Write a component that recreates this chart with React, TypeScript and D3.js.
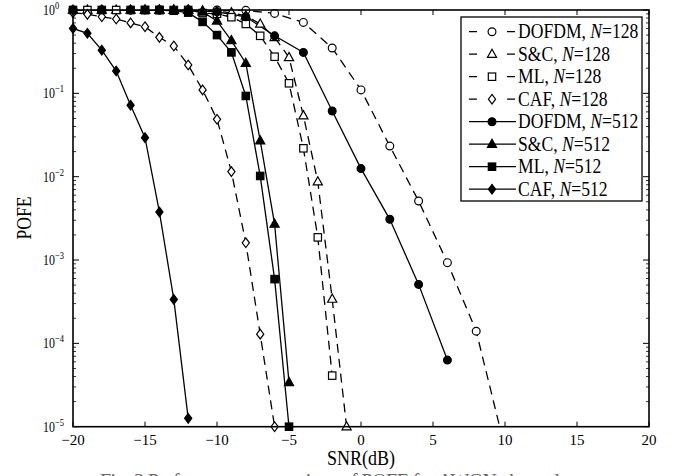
import React from "react";
import * as d3 from "d3";

// SNR (dB) grid and POFE values
const snrDofdm128 = [-20, -18, -16, -14, -12, -10, -8, -6, -4, -2, 0, 2, 4, 6, 8, 10];
const pofeDofdm128 = [1, 1, 1, 1, 1, 1, 0.99, 0.91, 0.71, 0.35, 0.11, 0.0233, 0.0051, 9.3e-4, 1.4e-4, 5.5e-6];

const snrSc128 = [-20, -19, -18, -17, -16, -15, -14, -13, -12, -11, -10, -9, -8, -7, -6, -5, -4, -3, -2, -1];
const pofeSc128 = [1, 1, 1, 1, 1, 1, 1, 1, 1, 0.98, 0.96, 0.93, 0.85, 0.68, 0.47, 0.27, 0.054, 0.0087, 3.4e-4, 1e-5];

const snrMl128 = [-20, -19, -18, -17, -16, -15, -14, -13, -12, -11, -10, -9, -8, -7, -6, -5, -4, -3, -2];
const pofeMl128 = [1, 1, 1, 1, 1, 1, 1, 1, 1, 0.92, 0.9, 0.82, 0.68, 0.49, 0.275, 0.132, 0.0219, 0.00187, 4.1e-5];

const snrCaf128 = [-20, -19, -18, -17, -16, -15, -14, -13, -12, -11, -10, -9, -8, -7, -6];
const pofeCaf128 = [0.93, 0.887, 0.83, 0.78, 0.7, 0.63, 0.47, 0.37, 0.219, 0.11, 0.0488, 0.0115, 0.00161, 1.29e-4, 1e-5];

const snrDofdm512 = [-20, -18, -16, -14, -12, -10, -8, -6, -4, -2, 0, 2, 4, 6];
const pofeDofdm512 = [1, 1, 1, 1, 1, 0.95, 0.83, 0.49, 0.31, 0.0614, 0.0125, 0.00308, 5.1e-4, 6.3e-5];

const snrSc512 = [-15, -14, -13, -12, -11, -10, -9, -8, -7, -6, -5];
const pofeSc512 = [1, 1, 1, 1, 0.95, 0.74, 0.43, 0.23, 0.027, 0.0027, 3.4e-5];

const snrMl512 = [-15, -14, -13, -12, -11, -10, -9, -8, -7, -6, -5];
const pofeMl512 = [1, 1, 0.98, 0.93, 0.72, 0.5, 0.31, 0.093, 0.0102, 5.9e-4, 1e-5];

const snrCaf512 = [-20, -19, -18, -17, -16, -15, -14, -13, -12];
const pofeCaf512 = [0.6, 0.525, 0.33, 0.185, 0.072, 0.0294, 0.00377, 3.37e-4, 1.26e-5];

const seriesNames = ["DOFDM", "S&C", "ML", "CAF", "DOFDM", "S&C", "ML", "CAF"];
const seriesN = ["128", "128", "128", "128", "512", "512", "512", "512"];
const markerKinds = ["circle", "triangle", "square", "diamond", "circle", "triangle", "square", "diamond"];

const xTicks = [-20, -15, -10, -5, 0, 5, 10, 15, 20];
const yExps = [0, -1, -2, -3, -4, -5];

const W = 677;
const H = 476;
const left = 73, right = 649, top = 10, bottom = 426.7;
const serif = "'Liberation Serif', 'DejaVu Serif', serif";

function Marker({ kind, x, y, filled }: { kind: string; x: number; y: number; filled: boolean }) {
  const fill = filled ? "#000" : "#fff";
  const sw = 1.2;
  if (kind === "circle") return <circle cx={x} cy={y} r={3.9} fill={fill} stroke="#000" strokeWidth={sw} />;
  if (kind === "square") return <rect x={x - 3.7} y={y - 3.7} width={7.4} height={7.4} fill={fill} stroke="#000" strokeWidth={sw} />;
  if (kind === "triangle")
    return <path d={`M${x},${y - 5}L${x + 4.6},${y + 3.2}L${x - 4.6},${y + 3.2}Z`} fill={fill} stroke="#000" strokeWidth={sw} />;
  return <path d={`M${x},${y - 4.8}L${x + 3.6},${y}L${x},${y + 4.8}L${x - 3.6},${y}Z`} fill={fill} stroke="#000" strokeWidth={sw} />;
}

export default function App() {
  const x = d3.scaleLinear().domain([-20, 20]).range([left, right]);
  const y = d3.scaleLog().domain([1e-5, 1]).range([bottom, top]);

  const snrs = [snrDofdm128, snrSc128, snrMl128, snrCaf128, snrDofdm512, snrSc512, snrMl512, snrCaf512];
  const vals = [pofeDofdm128, pofeSc128, pofeMl128, pofeCaf128, pofeDofdm512, pofeSc512, pofeMl512, pofeCaf512];

  const line = d3
    .line<[number, number]>()
    .x(d => x(d[0]))
    .y(d => y(d[1]));

  const minorY: number[] = [];
  for (let e = -5; e < 0; e++) for (let k = 2; k <= 9; k++) minorY.push(k * Math.pow(10, e));

  const legX = 461, legY = 17, legW = 181, legH = 184;
  const rowY = (i: number) => 31.7 + i * 22.5;

  return (
    <svg width={W} height={H} style={{ position: "absolute", left: 0, top: 0, background: "#fff" }}>
      <defs>
        <clipPath id="plot">
          <rect x={left} y={top} width={right - left} height={bottom - top} />
        </clipPath>
      </defs>

      {/* curves */}
      <g clipPath="url(#plot)">
        {snrs.map((s, i) => (
          <path
            key={"l" + i}
            d={line(s.map((v, j) => [v, vals[i][j]] as [number, number])) || ""}
            fill="none"
            stroke="#000"
            strokeWidth={1.3}
            strokeDasharray={i < 4 ? "9,6" : undefined}
          />
        ))}
      </g>
      {snrs.map((s, i) =>
        s.map((v, j) =>
          vals[i][j] >= 0.99e-5 ? (
            <Marker key={"m" + i + "-" + j} kind={markerKinds[i]} x={x(v)} y={y(vals[i][j])} filled={i >= 4} />
          ) : null
        )
      )}

      {/* frame and ticks */}
      <rect x={left} y={top} width={right - left} height={bottom - top} fill="none" stroke="#000" strokeWidth={1.6} />
      {xTicks.map(t => (
        <g key={"xt" + t}>
          <line x1={x(t)} x2={x(t)} y1={bottom} y2={bottom - 5} stroke="#000" strokeWidth={1} />
          <line x1={x(t)} x2={x(t)} y1={top} y2={top + 5} stroke="#000" strokeWidth={1} />
          <text x={x(t)} y={445} textAnchor="middle" fontFamily={serif} fontSize={15} fill="#000">
            {t < 0 ? "\u2212" + Math.abs(t) : String(t)}
          </text>
        </g>
      ))}
      {yExps.map(e => (
        <g key={"yt" + e}>
          <line x1={left} x2={left + 6} y1={y(Math.pow(10, e))} y2={y(Math.pow(10, e))} stroke="#000" strokeWidth={1} />
          <line x1={right} x2={right - 6} y1={y(Math.pow(10, e))} y2={y(Math.pow(10, e))} stroke="#000" strokeWidth={1} />
          <text
            transform={`translate(43,${y(Math.pow(10, e)) + 5}) scale(0.85,1)`}
            fontFamily={serif}
            fontSize={14}
            fill="#000"
          >
            10
            <tspan dy={-6} fontSize={10}>
              {e === 0 ? "0" : "\u2212" + Math.abs(e)}
            </tspan>
          </text>
        </g>
      ))}
      {minorY.map((v, i) => (
        <g key={"ym" + i}>
          <line x1={left} x2={left + 3} y1={y(v)} y2={y(v)} stroke="#000" strokeWidth={0.8} />
          <line x1={right} x2={right - 3} y1={y(v)} y2={y(v)} stroke="#000" strokeWidth={0.8} />
        </g>
      ))}

      {/* axis titles */}
      <text transform="translate(361,465) scale(0.9,1)" textAnchor="middle" fontFamily={serif} fontSize={20} fill="#000">
        SNR(dB)
      </text>
      <text transform="translate(31,218) rotate(-90) scale(0.88,1)" textAnchor="middle" fontFamily={serif} fontSize={20} fill="#000">
        POFE
      </text>

      {/* legend */}
      <rect x={legX} y={legY} width={legW} height={legH} fill="#fff" stroke="#000" strokeWidth={1.3} />
      {seriesNames.map((name, i) => (
        <g key={"lg" + i}>
          <line
            x1={469}
            x2={516}
            y1={rowY(i)}
            y2={rowY(i)}
            stroke="#000"
            strokeWidth={1.3}
            strokeDasharray={i < 4 ? "8,30" : undefined}
          />
          <Marker kind={markerKinds[i]} x={492} y={rowY(i)} filled={i >= 4} />
          <text transform={`translate(518,${rowY(i) + 6.5}) scale(0.88,1)`} fontFamily={serif} fontSize={20} fill="#000">
            {name}, <tspan fontStyle="italic">N</tspan>={seriesN[i]}
          </text>
        </g>
      ))}

      {/* caption, cut off by the page edge */}
      <text x={100} y={488} fontFamily={serif} fontSize={20} fill="#666" textLength={460}>
        Fig. 3    Performance comparison of POFE for AWGN channel
      </text>
    </svg>
  );
}
